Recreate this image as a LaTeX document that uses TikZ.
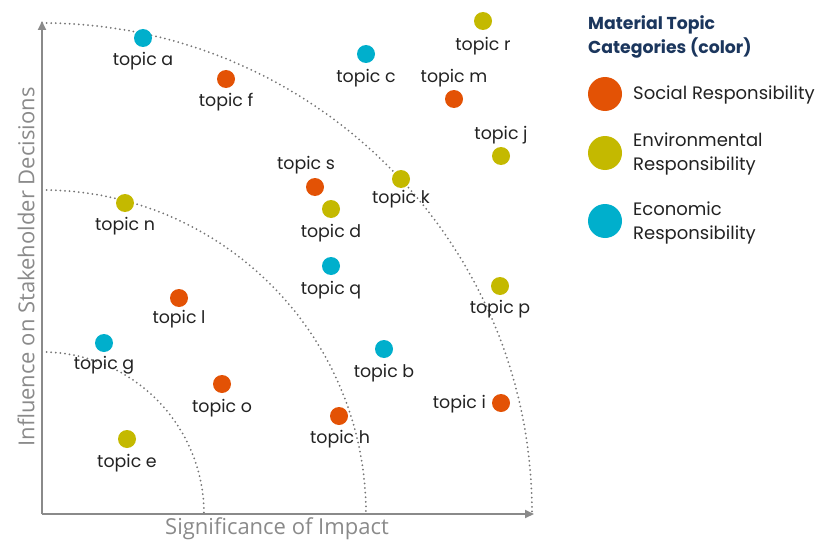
\documentclass[tikz,border=0pt]{standalone}
\usepackage{fontspec}
\setmainfont{Poppins}
\newfontfamily\axisfont{Open Sans}
\usetikzlibrary{arrows.meta}
\definecolor{soc}{HTML}{E35205}
\definecolor{env}{HTML}{C4B900}
\definecolor{eco}{HTML}{00AFCC}
\definecolor{navy}{HTML}{1B365D}
\definecolor{axisgray}{HTML}{8A8A8A}
\definecolor{ringgray}{HTML}{757575}
\definecolor{txt}{HTML}{222222}
\tikzset{
  dot/.style={circle,inner sep=0pt,minimum size=18pt},
  sdot/.style={dot,fill=soc},
  edot/.style={dot,fill=env},
  cdot/.style={dot,fill=eco},
  lbl/.style={inner sep=0pt,yshift=-1.5pt,text=txt,font=\fontsize{17.4}{20}\selectfont},
  ldot/.style={circle,inner sep=0pt,minimum size=34pt},
  ltext/.style={anchor=west,inner sep=0pt,align=left,text=txt,font=\fontsize{18}{23.5}\selectfont},
  axisline/.style={draw=axisgray,line width=2pt,-{Triangle[length=9pt,width=8pt]}},
  ring/.style={draw=ringgray,line width=2pt,line cap=round,dash pattern=on 0pt off 4.6pt},
  axislbl/.style={inner sep=0pt,text=axisgray,font=\axisfont\fontsize{22}{26}\selectfont}
}
\begin{document}
\begin{tikzpicture}[x=1pt,y=-1pt]
\useasboundingbox (0,0) rectangle (830,543);
% axes
\coordinate (O) at (42,514);
\coordinate (ytop) at (42,21);
\coordinate (xend) at (534,514);
% rings
\draw[ring] (42,352) arc[start angle=-90,end angle=0,radius=162];
\draw[ring] (42,190) arc[start angle=-90,end angle=0,radius=324];
\draw[ring] (42,23) arc[start angle=-90,end angle=0,radius=490];
\draw[axisline] (O) -- (ytop);
\draw[axisline] (O) -- (xend);
\node[axislbl] (xl) at (277,529) {Significance of Impact};
\node[axislbl,rotate=90] (yl) at (26,267) {Influence on Stakeholder Decisions};
% topics
\node[cdot] (a) at (143,38) {};  \node[lbl] (la) at (143,60) {topic a};
\node[sdot] (f) at (226,79) {};  \node[lbl] (lf) at (226,101) {topic f};
\node[cdot] (c) at (366,54) {};  \node[lbl] (lc) at (366,77) {topic c};
\node[edot] (r) at (483,21) {};  \node[lbl] (lr) at (483,45) {topic r};
\node[sdot] (m) at (454,99) {};  \node[lbl] (lm) at (454,77) {topic m};
\node[edot] (j) at (501,156) {}; \node[lbl] (lj) at (501,134) {topic j};
\node[sdot] (s) at (315,187) {}; \node[lbl] (ls) at (306,164) {topic s};
\node[edot] (k) at (401,179) {}; \node[lbl] (lk) at (401,198) {topic k};
\node[edot] (d) at (331,209) {}; \node[lbl] (ld) at (331,232) {topic d};
\node[edot] (n) at (125,203) {}; \node[lbl] (ln) at (125,225) {topic n};
\node[cdot] (q) at (331,266) {}; \node[lbl] (lq) at (331,289) {topic q};
\node[sdot] (l) at (179,298) {}; \node[lbl] (ll) at (179,318) {topic l};
\node[edot] (p) at (500,286) {}; \node[lbl] (lp) at (500,308) {topic p};
\node[cdot] (g) at (104,343) {}; \node[lbl] (lg) at (104,364) {topic g};
\node[cdot] (b) at (384,349) {}; \node[lbl] (lb) at (384,372) {topic b};
\node[sdot] (o) at (222,384) {}; \node[lbl] (lo) at (222,407) {topic o};
\node[sdot] (i) at (501,403) {}; \node[lbl,anchor=east] (li) at (486,403) {topic i};
\node[sdot] (h) at (339,416) {}; \node[lbl] (lh) at (340,438) {topic h};
\node[edot] (e) at (127,439) {}; \node[lbl] (le) at (127,462) {topic e};
% legend
\node[anchor=west,inner sep=0pt,align=left,text=navy,font=\bfseries\fontsize{17.3}{24}\selectfont] (title) at (588,37) {Material Topic\\Categories (color)};
\node[ldot,fill=soc] (ls1) at (605,94) {};
\node[ltext] (lt1) at (633,95) {Social Responsibility};
\node[ldot,fill=env] (ls2) at (605,153) {};
\node[ltext] (lt2) at (633,154) {Environmental\\Responsibility};
\node[ldot,fill=eco] (ls3) at (605,221) {};
\node[ltext] (lt3) at (633,223) {Economic\\Responsibility};
\end{tikzpicture}
\end{document}
